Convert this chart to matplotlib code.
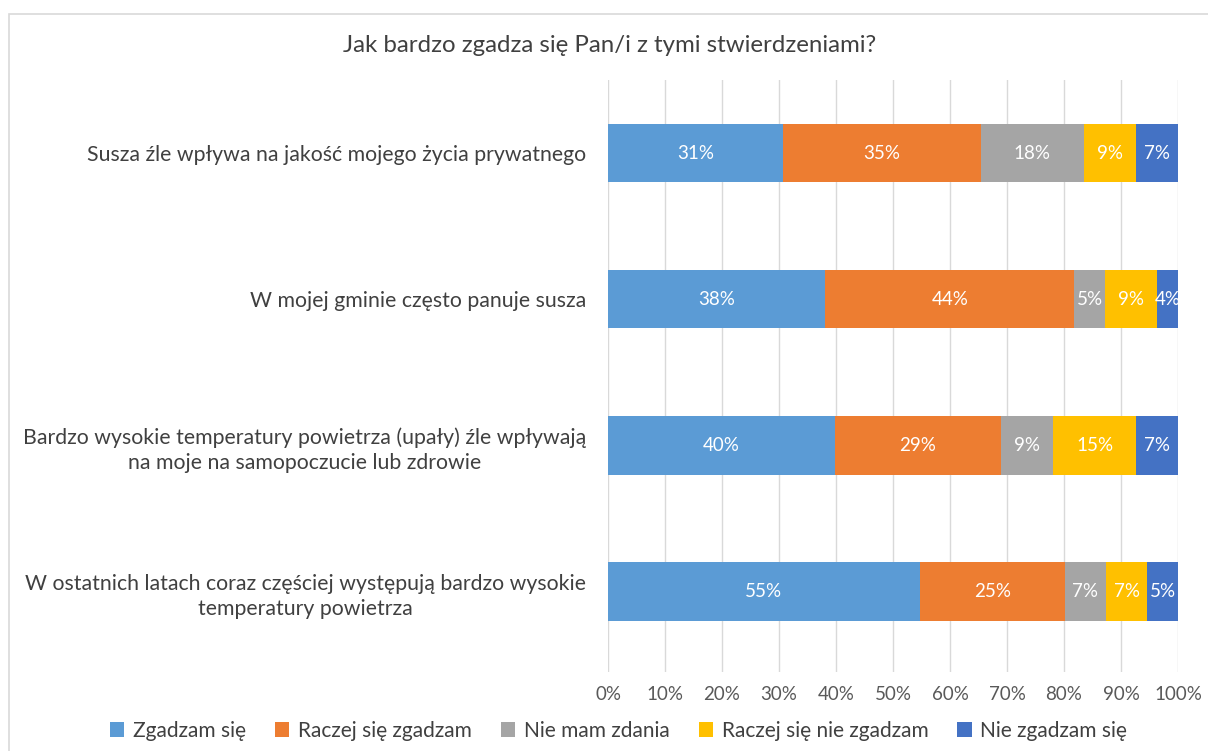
import matplotlib.pyplot as plt
import numpy as np
from matplotlib.patches import Rectangle

plt.rcParams['font.family'] = ['Lato', 'DejaVu Sans']

categories = ['Susza źle wpływa na jakość mojego życia prywatnego',
              'W mojej gminie często panuje susza',
              'Bardzo wysokie temperatury powietrza (upały) źle wpływają\nna moje na samopoczucie lub zdrowie',
              'W ostatnich latach coraz częściej występują bardzo wysokie\ntemperatury powietrza']
series = ['Zgadzam się', 'Raczej się zgadzam', 'Nie mam zdania',
          'Raczej się nie zgadzam', 'Nie zgadzam się']
colors = ['#5B9BD5', '#ED7D31', '#A5A5A5', '#FFC000', '#4472C4']

# values in percent, one list per answer (rows follow categories)
zgadzam = [30.7, 38.1, 39.8, 54.6]
raczej_zgadzam = [34.7, 43.7, 29.1, 25.4]
nie_mam = [18.1, 5.4, 9.2, 7.2]
raczej_nie = [9.1, 9.1, 14.6, 7.2]
nie_zgadzam = [7.4, 3.7, 7.3, 5.4]

data = np.array([zgadzam, raczej_zgadzam, nie_mam, raczej_nie, nie_zgadzam])
shares = data / data.sum(axis=0) * 100

fig = plt.figure(figsize=(12.08, 7.51), dpi=100)
fig.patches.append(Rectangle((9 / 1208, -0.1), 1.2, 1 - 14 / 751 + 0.1,
                             transform=fig.transFigure, fill=False,
                             edgecolor='#D9D9D9', linewidth=1.2))
ax = fig.add_axes([608 / 1208, 1 - 672 / 751, 570 / 1208, 592 / 751])

y = np.arange(len(categories))
left = np.zeros(len(categories))
for i, name in enumerate(series):
    ax.barh(y, shares[i], left=left, height=0.4, color=colors[i], label=name, zorder=3)
    for j in range(len(categories)):
        ax.text(left[j] + shares[i][j] / 2, y[j], f'{round(data[i][j]):.0f}%',
                ha='center', va='center', color='white', fontsize=13.5, zorder=4)
    left += shares[i]

ax.set_xlim(0, 100)
ax.set_ylim(3.55, -0.5)
ax.set_xticks(np.arange(0, 101, 10))
ax.set_xticklabels([f'{t}%' for t in range(0, 101, 10)])
ax.set_yticks(y)
ax.set_yticklabels(categories, multialignment='center', linespacing=1.35)
ax.tick_params(axis='x', length=0, labelsize=13.5, labelcolor='#595959', pad=10)
ax.tick_params(axis='y', length=0, labelsize=15.3, labelcolor='#404040', pad=16)
ax.grid(axis='x', color='#D9D9D9', linewidth=1, zorder=0)
for s in ax.spines.values():
    s.set_visible(False)

fig.text(0.505, 1 - 45 / 751, 'Jak bardzo zgadza się Pan/i z tymi stwierdzeniami?',
         ha='center', va='center', fontsize=17.3, color='#404040')

fig.legend(loc='center', bbox_to_anchor=(0.512, 1 - 731 / 751), ncol=5, frameon=False,
           fontsize=15, handlelength=0.7, handleheight=0.7, handletextpad=0.4,
           columnspacing=1.4, labelcolor='#404040')

fig.savefig('out.png', dpi=100)
